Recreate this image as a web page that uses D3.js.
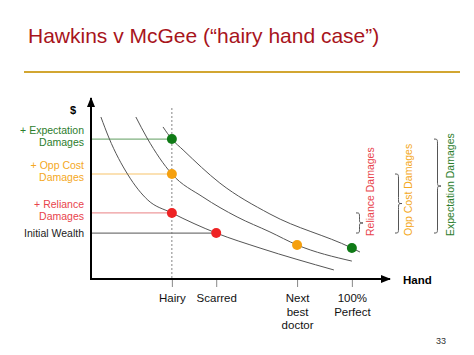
<!DOCTYPE html>
<html>
<head>
<meta charset="utf-8">
<script src="https://cdn.jsdelivr.net/npm/d3@7"></script>
<style>
  body { margin: 0; background: #fff; }
  svg { display: block; font-family: "Liberation Sans", Arial, sans-serif; }
</style>
</head>
<body>
<svg id="chart"></svg>
<script>
// hand quality positions on the x axis
const handLabels = [["Hairy"], ["Scarred"], ["Next", "best", "doctor"], ["100%", "Perfect"]];
const handValues = [31, 48, 79, 100];

// wealth levels on the y axis
const levelLabels = [["Initial Wealth"], ["+ Reliance", "Damages"], ["+ Opp Cost", "Damages"], ["+ Expectation", "Damages"]];
const levelValues = [25.4, 36.5, 58, 77.3];
const levelLineEnd = [48, 31, 31, 31];

// indifference curves
const curveLow = [[3.8, 89.5], [6.9, 77.9], [14.2, 57.5], [21.8, 43.6], [31, 36.5], [48, 25.4], [64.8, 17.1], [93.1, 5.0]];
const curveMid = [[17.2, 89.5], [21.5, 77.9], [31, 58], [42.9, 45.3], [56, 34.3], [68.6, 26], [79, 18.8], [100, 9.9]];
const curveHigh = [[27.6, 84], [31, 77.3], [35.3, 71.3], [49.4, 53], [68.6, 35.9], [100, 17.1], [103.1, 14.9]];

// dots: x, y, level index for colour
const dotX = [31, 31, 31, 48, 79, 100];
const dotY = [77.3, 58, 36.5, 25.4, 18.8, 17.1];
const dotLevel = [3, 2, 1, 1, 2, 3];

// damages brackets: from level to initial wealth
const braceNames = ["Reliance Damages", "Opp Cost Damages", "Expectation Damages"];
const braceTop = [36.5, 58, 77.3];

const levelColor = ["#222", "#e8434b", "#f4a823", "#2c7d2c"];
const lineColor = ["#777", "#ee9a9c", "#f7c46a", "#7fb07f"];
const dotColor = ["#222", "#ee2324", "#f5a00f", "#0f7a16"];

const W = 474, H = 355;
const svg = d3.select('#chart').attr('width', W).attr('height', H);

// title
svg.append('text')
    .attr('x', 28).attr('y', 43)
    .attr('fill', '#a8141c')
    .style('font-size', '21px')
    .text('Hawkins v McGee (\u201chairy hand case\u201d)');

svg.append('line')
    .attr('x1', 24).attr('x2', 460)
    .attr('y1', 72).attr('y2', 72)
    .attr('stroke', '#d2a631').attr('stroke-width', 2);

// scales
let x = d3.scaleLinear().domain([0, 115]).range([91, 391]);
let y = d3.scaleLinear().domain([0, 100]).range([279, 98]);

// arrow marker
svg.append('defs').append('marker')
    .attr('id', 'arrow')
    .attr('viewBox', '0 0 10 10')
    .attr('refX', 9).attr('refY', 5)
    .attr('markerWidth', 5).attr('markerHeight', 5)
    .attr('orient', 'auto')
    .append('path')
    .attr('d', 'M0,1 L10,5 L0,9 z')
    .attr('fill', '#000');

// x axis ticks and labels
let xAxis = d3.axisBottom(x)
    .tickValues(handValues)
    .tickSize(8)
    .tickPadding(5)
    .tickFormat('');

let gx = svg.append('g')
    .attr('class', 'x-axis')
    .attr('transform', `translate(0, ${y(0)})`)
    .call(xAxis);
gx.select('.domain').remove();
gx.selectAll('.tick line').attr('stroke', '#888');
gx.selectAll('.tick').each(function(d, i) {
    let t = d3.select(this).append('text')
        .attr('fill', '#111')
        .attr('text-anchor', 'middle')
        .style('font-size', '11.5px');
    handLabels[i].forEach((s, k) => {
        t.append('tspan').attr('x', 0).attr('y', 23 + k * 13.5).text(s);
    });
});

// dotted line at Hairy
svg.append('line')
    .attr('x1', x(handValues[0])).attr('x2', x(handValues[0]))
    .attr('y1', 108).attr('y2', y(0))
    .attr('stroke', '#666').attr('stroke-width', 0.8)
    .attr('stroke-dasharray', '2,2');

// level lines
levelValues.forEach((v, i) => {
    svg.append('line')
        .attr('x1', x(0)).attr('x2', x(levelLineEnd[i]))
        .attr('y1', y(v)).attr('y2', y(v))
        .attr('stroke', lineColor[i]).attr('stroke-width', 1.2);
});

// level labels
levelValues.forEach((v, i) => {
    let lines = levelLabels[i];
    let t = svg.append('text')
        .attr('fill', levelColor[i])
        .attr('text-anchor', 'end')
        .style('font-size', '10.5px');
    lines.forEach((s, k) => {
        let dy = lines.length === 1 ? 0 : (k === 0 ? -9 : 3);
        t.append('tspan').attr('x', 84).attr('y', y(v) + 4 + dy).text(s);
    });
});

// curves
let lineGen = d3.line()
    .x(d => x(d[0]))
    .y(d => y(d[1]))
    .curve(d3.curveMonotoneX);

[curveLow, curveMid, curveHigh].forEach(c => {
    svg.append('path')
        .attr('d', lineGen(c))
        .attr('fill', 'none')
        .attr('stroke', '#555')
        .attr('stroke-width', 1);
});

// axes with arrows
svg.append('line')
    .attr('x1', x(0)).attr('x2', x(0))
    .attr('y1', y(0) + 1).attr('y2', y(100))
    .attr('stroke', '#000').attr('stroke-width', 2)
    .attr('marker-end', 'url(#arrow)');
svg.append('line')
    .attr('x1', x(0) - 1).attr('x2', x(115) - 1)
    .attr('y1', y(0)).attr('y2', y(0))
    .attr('stroke', '#000').attr('stroke-width', 2)
    .attr('marker-end', 'url(#arrow)');

svg.append('text')
    .attr('x', 73).attr('y', 114)
    .attr('text-anchor', 'middle')
    .style('font-size', '11px').style('font-weight', 'bold')
    .text('$');

svg.append('text')
    .attr('x', 403).attr('y', 284)
    .style('font-size', '11.5px').style('font-weight', 'bold')
    .text('Hand');

// dots
dotX.forEach((dx, i) => {
    svg.append('circle')
        .attr('cx', x(dx)).attr('cy', y(dotY[i]))
        .attr('r', 5)
        .attr('fill', dotColor[dotLevel[i]]);
});

// curly braces
function bracePath(bx, ya, yb, w) {
    let m = (ya + yb) / 2;
    let r = Math.min(6, (yb - ya) / 4);
    let h = w / 2;
    return `M${bx},${ya} C${bx + h},${ya} ${bx + h},${ya} ${bx + h},${ya + r}` +
        ` L${bx + h},${m - r}` +
        ` C${bx + h},${m} ${bx + h},${m} ${bx + w},${m}` +
        ` C${bx + h},${m} ${bx + h},${m} ${bx + h},${m + r}` +
        ` L${bx + h},${yb - r}` +
        ` C${bx + h},${yb} ${bx + h},${yb} ${bx},${yb}`;
}

const braceX = [356, 395, 434];
const braceTextX = [374, 412, 454];
braceTop.forEach((v, i) => {
    svg.append('path')
        .attr('d', bracePath(braceX[i], y(v), y(levelValues[0]), 7))
        .attr('fill', 'none')
        .attr('stroke', '#555')
        .attr('stroke-width', 1);
    svg.append('text')
        .attr('transform', `translate(${braceTextX[i]}, 236) rotate(-90)`)
        .attr('fill', levelColor[i + 1])
        .style('font-size', '10.5px')
        .text(braceNames[i]);
});

// page number
svg.append('text')
    .attr('x', 441).attr('y', 344)
    .attr('text-anchor', 'middle')
    .attr('fill', '#333')
    .style('font-size', '9px')
    .text('33');
</script>
</body>
</html>
